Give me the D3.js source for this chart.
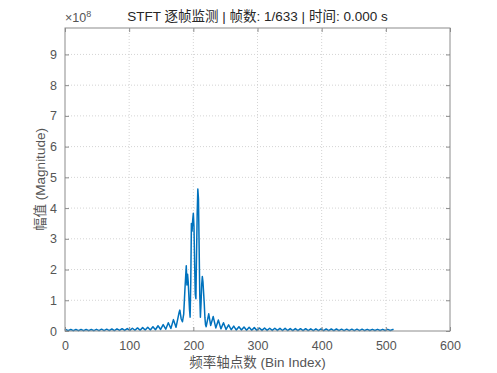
<!DOCTYPE html>
<html>
<head>
<meta charset="utf-8">
<script src="https://cdn.jsdelivr.net/npm/d3@7"></script>
<style>
  html, body { margin: 0; padding: 0; background: #fff; }
  #stft-chart { width: 497px; height: 373px; }
  text { font-family: "Liberation Sans", Arial, "Noto Sans CJK SC", sans-serif; }
</style>
</head>
<body>
<div id="stft-chart"></div>
<script>
// frame 1 spectrum, magnitude in units of 1e8
const binIndex = [
  0, 1, 5, 9, 13, 17, 21, 25, 29, 33, 37, 41, 45, 49, 53, 57, 61, 65, 69, 73,
  77, 81, 85, 89, 93, 97, 101, 105, 109, 113, 117, 121, 125, 129, 133, 137, 141, 145, 149, 153,
  157, 161, 165, 169, 173, 176, 178, 179, 181, 183, 185, 187, 189, 190, 191, 192, 194, 195, 196, 197,
  198, 199, 200, 201, 202, 203, 204, 205, 206, 207, 208, 209, 210, 211, 212, 213, 214, 215, 216, 217,
  218, 219, 220, 222, 224, 227, 231, 235, 239, 243, 247, 251, 255, 259, 263, 267, 271, 275, 279, 283,
  287, 291, 295, 299, 303, 307, 311, 315, 319, 323, 327, 331, 335, 339, 343, 347, 351, 355, 359, 363,
  367, 371, 375, 379, 383, 387, 391, 395, 399, 403, 407, 411, 415, 419, 423, 427, 431, 435, 439, 443,
  447, 451, 455, 459, 463, 467, 471, 475, 479, 483, 487, 491, 495, 499, 503, 507, 511, 512
];
const magnitude = [
  0.02, 0.05, 0.01, 0.05, 0.01, 0.05, 0.01, 0.05, 0.01, 0.05, 0.01, 0.05, 0.01, 0.055, 0.01, 0.06, 0.015, 0.06, 0.015, 0.065,
  0.015, 0.07, 0.02, 0.075, 0.02, 0.08, 0.02, 0.09, 0.025, 0.1, 0.025, 0.11, 0.03, 0.12, 0.035, 0.14, 0.04, 0.17, 0.05, 0.21,
  0.06, 0.27, 0.08, 0.37, 0.12, 0.42, 0.62, 0.68, 0.4, 0.3, 0.55, 1.4, 2.12, 1.5, 1.85, 1.6, 0.7, 0.45, 1.6, 3.5,
  3.25, 3.6, 3.83, 3.4, 2.2, 1.2, 1.05, 2.5, 3.8, 4.62, 4.3, 2.8, 1.2, 0.45, 0.9, 1.5, 1.77, 1.6, 1.25, 0.9,
  0.45, 0.2, 0.14, 0.35, 0.56, 0.18, 0.47, 0.1, 0.36, 0.07, 0.27, 0.05, 0.2, 0.04, 0.16, 0.03, 0.14, 0.03, 0.13, 0.025,
  0.12, 0.025, 0.11, 0.02, 0.1, 0.02, 0.1, 0.02, 0.09, 0.02, 0.09, 0.02, 0.085, 0.015, 0.085, 0.015, 0.08, 0.015, 0.08, 0.015,
  0.075, 0.015, 0.075, 0.015, 0.07, 0.015, 0.07, 0.015, 0.07, 0.015, 0.065, 0.015, 0.065, 0.015, 0.065, 0.015, 0.06, 0.015, 0.06, 0.015,
  0.06, 0.015, 0.06, 0.015, 0.06, 0.015, 0.055, 0.015, 0.055, 0.015, 0.055, 0.015, 0.055, 0.015, 0.055, 0.015, 0.05, 0.04
];
const xTicks = [0, 100, 200, 300, 400, 500, 600];
const yTicks = [0, 1, 2, 3, 4, 5, 6, 7, 8, 9];
const yExponent = 8;
const titleText = 'STFT 逐帧监测 | 帧数: 1/633 | 时间: 0.000 s';
const xLabelText = '频率轴点数 (Bin Index)';
const yLabelText = '幅值 (Magnitude)';

const width = 497,
      height = 373,
      margin = {top: 28, right: 47, bottom: 42, left: 65};

const svg = d3.select('#stft-chart').append('svg')
  .attr('width', width)
  .attr('height', height);

const x = d3.scaleLinear()
  .domain([0, 600])
  .range([margin.left, width - margin.right]);
const y = d3.scaleLinear()
  .domain([0, 9.86])
  .range([height - margin.bottom, margin.top]);

const axisColor = '#8c8c8c';
const textColor = '#555';
const tickLen = 4;

//grid lines
svg.append('g').selectAll('line')
  .data(xTicks.slice(1, -1))
  .enter().append('line')
  .attr('x1', d => x(d)).attr('x2', d => x(d))
  .attr('y1', y.range()[0]).attr('y2', y.range()[1])
  .attr('stroke', '#d4d4d4')
  .attr('stroke-dasharray', '1,2');
svg.append('g').selectAll('line')
  .data(yTicks.slice(1))
  .enter().append('line')
  .attr('x1', x.range()[0]).attr('x2', x.range()[1])
  .attr('y1', d => y(d)).attr('y2', d => y(d))
  .attr('stroke', '#d4d4d4')
  .attr('stroke-dasharray', '1,2');

//spectrum line
const line = d3.line()
  .x((d, i) => x(binIndex[i]))
  .y(d => y(d));
svg.append('path')
  .datum(magnitude)
  .attr('d', line)
  .attr('fill', 'none')
  .attr('stroke', '#0072BD')
  .attr('stroke-width', 1.5)
  .attr('stroke-linejoin', 'round');

//axes, ticks pointing inward like matlab
const xAxis = d3.axisBottom(x).tickValues(xTicks).tickSize(-tickLen).tickPadding(10);
const yAxis = d3.axisLeft(y).tickValues(yTicks).tickSize(-tickLen).tickPadding(8);
const xAxisTop = d3.axisTop(x).tickValues(xTicks).tickSize(-tickLen).tickFormat('');
const yAxisRight = d3.axisRight(y).tickValues(yTicks).tickSize(-tickLen).tickFormat('');

const gx = svg.append('g')
  .attr('transform', 'translate(0,' + y.range()[0] + ')')
  .call(xAxis);
const gy = svg.append('g')
  .attr('transform', 'translate(' + x.range()[0] + ',0)')
  .call(yAxis);
svg.append('g')
  .attr('transform', 'translate(0,' + y.range()[1] + ')')
  .call(xAxisTop);
svg.append('g')
  .attr('transform', 'translate(' + x.range()[1] + ',0)')
  .call(yAxisRight);

svg.selectAll('.domain').remove();
svg.selectAll('.tick line').attr('stroke', axisColor);
svg.selectAll('.tick text')
  .attr('fill', textColor)
  .style('font-size', '12.5px');

//box
svg.append('rect')
  .attr('x', x.range()[0])
  .attr('y', y.range()[1])
  .attr('width', x.range()[1] - x.range()[0])
  .attr('height', y.range()[0] - y.range()[1])
  .attr('fill', 'none')
  .attr('stroke', axisColor)
  .attr('stroke-width', 1);

//exponent label
const expLabel = svg.append('text')
  .attr('x', x.range()[0])
  .attr('y', 22)
  .attr('fill', textColor)
  .style('font-size', '12.5px');
expLabel.append('tspan').text('×10');
expLabel.append('tspan')
  .attr('dy', -5)
  .style('font-size', '9px')
  .text(yExponent);

svg.append('text')
  .attr('x', (x.range()[0] + x.range()[1]) / 2)
  .attr('y', 21)
  .attr('text-anchor', 'middle')
  .attr('fill', '#262626')
  .style('font-size', '13.5px')
  .text(titleText);

svg.append('text')
  .attr('x', (x.range()[0] + x.range()[1]) / 2)
  .attr('y', 367)
  .attr('text-anchor', 'middle')
  .attr('fill', textColor)
  .style('font-size', '13.5px')
  .text(xLabelText);

svg.append('text')
  .attr('transform', 'translate(45,' + ((y.range()[0] + y.range()[1]) / 2) + ') rotate(-90)')
  .attr('text-anchor', 'middle')
  .attr('fill', textColor)
  .style('font-size', '13.5px')
  .text(yLabelText);
</script>
</body>
</html>
